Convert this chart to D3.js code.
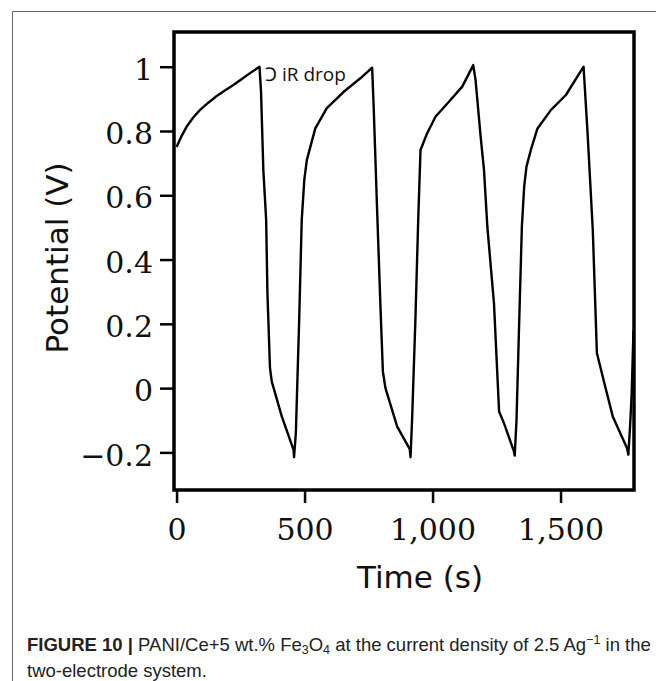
<!DOCTYPE html>
<html>
<head>
<meta charset="utf-8">
<script src="https://cdn.jsdelivr.net/npm/d3@7"></script>
<style>
  body { margin: 0; background: #fff; }
  svg { display: block; }
</style>
</head>
<body>
<div id="chart"></div>
<script>
// charge/discharge curve (time in s, potential in V)
const timeS = [0, 20, 39, 65, 91, 124, 157, 190, 222, 255, 287, 324, 330, 339, 350, 355, 365, 372, 411, 457, 459,
  466, 479, 489, 499, 509, 542, 587, 653, 718, 764, 770, 783, 797, 806, 816, 862, 911, 914,
  920, 933, 944, 953, 979, 1012, 1064, 1116, 1159, 1168, 1188, 1201, 1214, 1240, 1260, 1279, 1318, 1321,
  1328, 1338, 1349, 1358, 1367, 1384, 1410, 1462, 1521, 1590, 1606, 1626, 1642, 1671, 1704, 1760, 1765,
  1772, 1778, 1785];
const potentialV = [0.75, 0.785, 0.813, 0.842, 0.865, 0.888, 0.909, 0.927, 0.943, 0.962, 0.98, 1.0, 0.922, 0.679, 0.523, 0.295, 0.062, 0.02, -0.088, -0.192, -0.215,
  -0.14, 0.212, 0.523, 0.648, 0.71, 0.808, 0.871, 0.922, 0.964, 0.997, 0.876, 0.565, 0.243, 0.052, 0.0, -0.12, -0.19, -0.215,
  -0.1, 0.212, 0.523, 0.741, 0.793, 0.845, 0.891, 0.938, 1.005, 0.959, 0.782, 0.679, 0.503, 0.264, -0.073, -0.109, -0.197, -0.21,
  -0.1, 0.192, 0.503, 0.627, 0.689, 0.741, 0.808, 0.865, 0.912, 1.0, 0.788, 0.492, 0.109, 0.016, -0.088, -0.187, -0.207,
  -0.114, -0.016, 0.18];

const xTicks = [0, 500, 1000, 1500];
const yTicks = [-0.2, 0, 0.2, 0.4, 0.6, 0.8, 1];

const W = 656, H = 681;
const PLOT = { left: 174, right: 634, top: 32, bottom: 490 };

const svg = d3.select("#chart").append("svg")
    .attr("width", W)
    .attr("height", H);

// outer figure frame (left + top only, like the page crop)
svg.append("path")
    .attr("d", `M12.5,${H} L12.5,11.5 L${W},11.5`)
    .attr("fill", "none")
    .attr("stroke", "#666")
    .attr("stroke-width", 1);

const x = d3.scaleLinear()
    .domain([-10, 1787])
    .range([PLOT.left, PLOT.right]);

const y = d3.scaleLinear()
    .domain([-0.317, 1.108])
    .range([PLOT.bottom, PLOT.top]);

// y axis
const yAxis = svg.append("g")
    .attr("transform", `translate(${PLOT.left},0)`)
    .call(d3.axisLeft(y).tickValues(yTicks).tickSize(14).tickSizeOuter(0).tickPadding(7)
        .tickFormat(d3.format("")));
yAxis.select(".domain").remove();
yAxis.selectAll(".tick line").attr("stroke", "#000").attr("stroke-width", 2.5);
yAxis.selectAll(".tick text")
    .attr("font-family", "DejaVu Serif")
    .attr("font-size", 30)
    .attr("fill", "#111")
    .attr("dy", "0.42em");

// x axis
const xAxis = svg.append("g")
    .attr("transform", `translate(0,${PLOT.bottom})`)
    .call(d3.axisBottom(x).tickValues(xTicks).tickSize(13).tickSizeOuter(0)
        .tickFormat(d3.format(",")));
xAxis.select(".domain").remove();
xAxis.selectAll(".tick line").attr("stroke", "#000").attr("stroke-width", 2.5);
xAxis.selectAll(".tick text")
    .attr("font-family", "DejaVu Serif")
    .attr("font-size", 30)
    .attr("fill", "#111")
    .attr("y", 50)
    .attr("dy", 0);

// the curve
const line = d3.line()
    .x((d, i) => x(timeS[i]))
    .y(d => y(d));

svg.append("path")
    .datum(potentialV)
    .attr("d", line)
    .attr("fill", "none")
    .attr("stroke", "#000")
    .attr("stroke-width", 2.4)
    .attr("stroke-linejoin", "round");

// plot frame
svg.append("rect")
    .attr("x", PLOT.left)
    .attr("y", PLOT.top)
    .attr("width", PLOT.right - PLOT.left)
    .attr("height", PLOT.bottom - PLOT.top)
    .attr("fill", "none")
    .attr("stroke", "#000")
    .attr("stroke-width", 3.5);

// annotation
svg.append("text")
    .attr("x", 265)
    .attr("y", 81)
    .attr("font-family", "Open Sans")
    .attr("font-size", 19)
    .attr("fill", "#111")
    .text("\u2183 iR drop");

// axis titles
svg.append("text")
    .attr("x", 420)
    .attr("y", 588)
    .attr("text-anchor", "middle")
    .attr("font-family", "DejaVu Sans")
    .attr("font-size", 31)
    .attr("fill", "#111")
    .text("Time (s)");

svg.append("text")
    .attr("transform", "translate(68,258) rotate(-90)")
    .attr("text-anchor", "middle")
    .attr("font-family", "DejaVu Sans")
    .attr("font-size", 31)
    .attr("fill", "#111")
    .text("Potential (V)");

// caption
const cap = svg.append("text")
    .attr("x", 27)
    .attr("y", 651)
    .attr("font-family", "Liberation Sans")
    .attr("font-size", 18.5)
    .attr("fill", "#222");
cap.append("tspan").attr("font-weight", "bold").text("FIGURE 10 |");
cap.append("tspan").text(" PANI/Ce+5 wt.% Fe");
cap.append("tspan").attr("font-size", 12.5).attr("dy", 3).text("3");
cap.append("tspan").attr("dy", -3).text("O");
cap.append("tspan").attr("font-size", 12.5).attr("dy", 3).text("4");
cap.append("tspan").attr("dy", -3).text(" at the current density of 2.5 Ag");
cap.append("tspan").attr("font-size", 12.5).attr("dy", -7).text("\u22121");
cap.append("tspan").attr("dy", 7).text(" in the");

svg.append("text")
    .attr("x", 27)
    .attr("y", 677)
    .attr("font-family", "Liberation Sans")
    .attr("font-size", 18.5)
    .attr("fill", "#222")
    .text("two-electrode system.");
</script>
</body>
</html>
